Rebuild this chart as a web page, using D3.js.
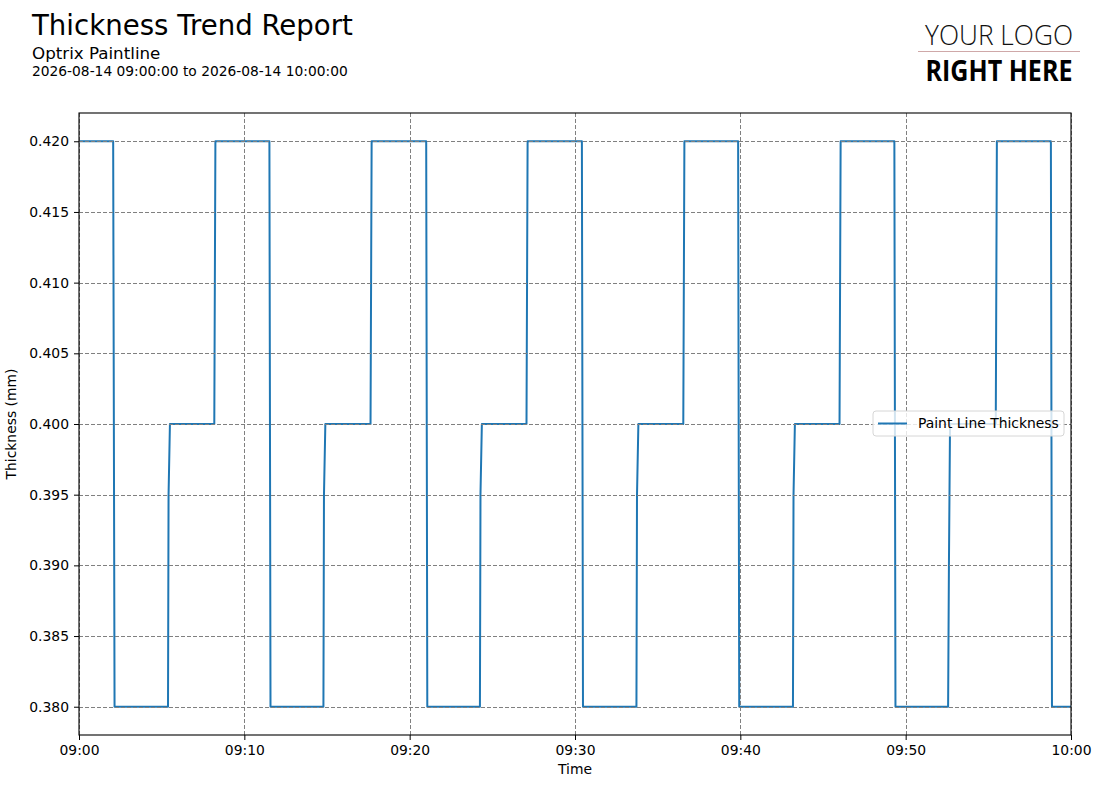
<!DOCTYPE html>
<html>
<head>
<meta charset="utf-8">
<script src="https://cdn.jsdelivr.net/npm/d3@7"></script>
<style>
  body { margin: 0; background: #fff; }
  text { font-family: "DejaVu Sans", sans-serif; }
</style>
</head>
<body>
<div id="chart"></div>
<script>
// readings (breakpoints of the step signal), 2026-08-14
var day = "2026-08-14";
var times = [
  "09:00:00", "09:02:04", "09:02:09", "09:05:23", "09:05:25", "09:05:30", "09:08:11", "09:08:15",
  "09:11:31", "09:11:35", "09:14:47", "09:14:49", "09:14:54", "09:17:38", "09:17:42",
  "09:21:00", "09:21:04", "09:24:15", "09:24:17", "09:24:22", "09:27:04", "09:27:08",
  "09:30:25", "09:30:29", "09:33:43", "09:33:45", "09:33:50", "09:36:33", "09:36:37",
  "09:39:52", "09:39:56", "09:43:11", "09:43:13", "09:43:18", "09:46:00", "09:46:04",
  "09:49:19", "09:49:23", "09:52:34", "09:52:37", "09:52:41", "09:55:27", "09:55:31",
  "09:58:47", "09:58:51", "10:00:00"
];
var values = [
  0.420, 0.420, 0.380, 0.380, 0.395, 0.400, 0.400, 0.420,
  0.420, 0.380, 0.380, 0.395, 0.400, 0.400, 0.420,
  0.420, 0.380, 0.380, 0.395, 0.400, 0.400, 0.420,
  0.420, 0.380, 0.380, 0.395, 0.400, 0.400, 0.420,
  0.420, 0.380, 0.380, 0.395, 0.400, 0.400, 0.420,
  0.420, 0.380, 0.380, 0.390, 0.400, 0.400, 0.420,
  0.420, 0.380, 0.380
];
var yTicks = [0.380, 0.385, 0.390, 0.395, 0.400, 0.405, 0.410, 0.415, 0.420];
var xTicks = ["09:00", "09:10", "09:20", "09:30", "09:40", "09:50", "10:00"];

var W = 1100, H = 788;
var margin = {top: 113, right: 29, bottom: 53, left: 79},
    width = W - margin.left - margin.right,
    height = H - margin.top - margin.bottom;

var parseT = d3.timeParse("%Y-%m-%d %H:%M:%S");
var parseTick = d3.timeParse("%Y-%m-%d %H:%M");

var data = times.map(function(t, i) { return {t: parseT(day + " " + t), v: values[i]}; });

var svg = d3.select("#chart").append("svg")
    .attr("width", W)
    .attr("height", H);

// header
svg.append("text").attr("x", 32).attr("y", 35)
    .style("font-size", "27.6px").text("Thickness Trend Report");
svg.append("text").attr("x", 32).attr("y", 59)
    .style("font-size", "16.7px").text("Optrix Paintline");
svg.append("text").attr("x", 32).attr("y", 76)
    .style("font-size", "13.8px").text("2026-08-14 09:00:00 to 2026-08-14 10:00:00");

// logo
var logo = svg.append("g");
logo.append("text").attr("x", 999).attr("y", 45).attr("text-anchor", "middle")
    .attr("textLength", 148).attr("lengthAdjust", "spacingAndGlyphs")
    .style("font-family", "'Open Sans', sans-serif").style("font-weight", 300)
    .style("font-size", "28px").style("fill", "#111").text("YOUR LOGO");
logo.append("line").attr("x1", 918).attr("x2", 1080).attr("y1", 51.5).attr("y2", 51.5)
    .style("stroke", "#cfa8a8").style("stroke-width", 1);
logo.append("text").attr("x", 999).attr("y", 81).attr("text-anchor", "middle")
    .attr("textLength", 147).attr("lengthAdjust", "spacingAndGlyphs")
    .style("font-family", "'Liberation Sans Narrow', 'Open Sans', sans-serif").style("font-weight", 700)
    .style("font-size", "28px").style("fill", "#000").text("RIGHT HERE");

var g = svg.append("g")
    .attr("transform", "translate(" + margin.left + "," + margin.top + ")");

var x = d3.scaleTime()
    .domain([parseTick(day + " 09:00"), parseTick(day + " 10:00")])
    .range([0, width]);

var y = d3.scaleLinear()
    .domain([0.378, 0.422])
    .range([height, 0]);

g.append("clipPath").attr("id", "clip")
  .append("rect").attr("width", width).attr("height", height);

var line = d3.line()
    .x(function(d) { return x(d.t); })
    .y(function(d) { return y(d.v); });

g.append("path")
    .datum(data)
    .attr("clip-path", "url(#clip)")
    .attr("d", line)
    .style("fill", "none")
    .style("stroke", "#1f77b4")
    .style("stroke-width", 2)
    .style("stroke-linejoin", "round");

// grid (drawn over the line, as in the source)
var xTickDates = xTicks.map(function(s) { return parseTick(day + " " + s); });

g.append("g").selectAll("line")
    .data(yTicks)
    .enter().append("line")
      .attr("x1", 0).attr("x2", width)
      .attr("y1", function(d) { return Math.round(y(d)) + 0.5; })
      .attr("y2", function(d) { return Math.round(y(d)) + 0.5; })
      .style("stroke", "#808080").style("stroke-width", 1).style("stroke-dasharray", "4,2");

g.append("g").selectAll("line")
    .data(xTickDates)
    .enter().append("line")
      .attr("y1", 0).attr("y2", height)
      .attr("x1", function(d) { return Math.round(x(d)) + 0.5; })
      .attr("x2", function(d) { return Math.round(x(d)) + 0.5; })
      .style("stroke", "#808080").style("stroke-width", 1).style("stroke-dasharray", "4,2");

// axes
var xAxis = g.append("g")
    .attr("transform", "translate(0," + height + ")")
    .call(d3.axisBottom(x).tickValues(xTickDates).tickFormat(d3.timeFormat("%H:%M"))
      .tickSizeOuter(0).tickSize(5).tickPadding(5.5));

var yAxis = g.append("g")
    .call(d3.axisLeft(y).tickValues(yTicks).tickFormat(d3.format(".3f"))
      .tickSizeOuter(0).tickSize(5).tickPadding(5));

[xAxis, yAxis].forEach(function(a) {
  a.select(".domain").remove();
  a.selectAll("text").style("font-family", "'DejaVu Sans', sans-serif")
    .style("font-size", "13.9px").style("fill", "#000");
  a.selectAll("line").style("stroke", "#000");
});

// frame
g.append("rect")
    .attr("x", 0).attr("y", 0).attr("width", width).attr("height", height)
    .style("fill", "none").style("stroke", "#000").style("stroke-width", 1.1);

// axis titles
g.append("text")
    .attr("x", width / 2).attr("y", height + 39)
    .attr("text-anchor", "middle")
    .style("font-size", "13.9px")
    .text("Time");

g.append("text")
    .attr("transform", "translate(" + (-63) + "," + (height / 2) + ") rotate(-90)")
    .attr("text-anchor", "middle")
    .style("font-size", "13.9px")
    .text("Thickness (mm)");

// legend
var lg = g.append("g").attr("transform", "translate(" + (width - 198) + "," + (height / 2 - 13) + ")");
lg.append("rect")
    .attr("width", 191).attr("height", 25).attr("rx", 3)
    .style("fill", "#fff").style("fill-opacity", 0.8)
    .style("stroke", "#d6d6d6").style("stroke-width", 1);
lg.append("line")
    .attr("x1", 5).attr("x2", 34).attr("y1", 12.5).attr("y2", 12.5)
    .style("stroke", "#1f77b4").style("stroke-width", 2);
lg.append("text")
    .attr("x", 45).attr("y", 17)
    .style("font-size", "13.9px")
    .text("Paint Line Thickness");
</script>
</body>
</html>
